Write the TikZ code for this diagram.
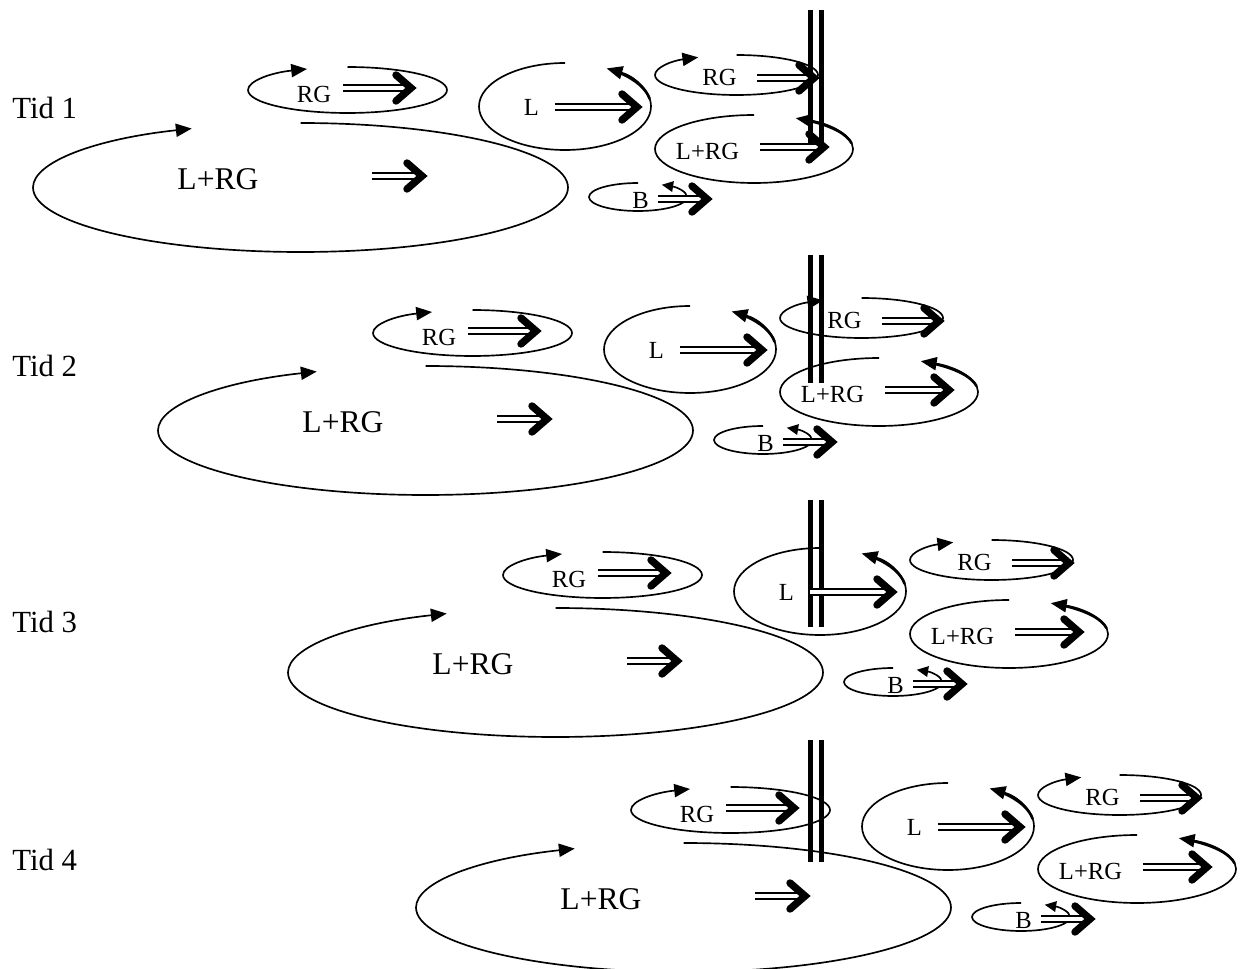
\documentclass[tikz,border=0pt]{standalone}
\usepackage{fontspec}
\setmainfont{Liberation Serif}
\usetikzlibrary{arrows.meta}
\newcommand{\ellarc}[7]{\draw[#1] (#2,-#3) ++(#6:#4 and #5) arc[start angle=#6,end angle=#7,x radius=#4,y radius=#5];}
\newcommand{\dblarrow}[3]{%
  \draw[shaft] (#1,-#3) -- (#2-8,-#3);
  \draw[chev] (#2-21,-#3+13) -- (#2-6,-#3) -- (#2-21,-#3-13);}
\tikzset{
  circarrow/.style={line width=0.95pt, -{Triangle[length=9pt,width=7.5pt]}},
  smallarrow/.style={line width=0.95pt, -{Triangle[length=6.5pt,width=6pt]}},
  thickseg/.style={line width=1.5pt},
  shaft/.style={double, line width=1.25pt, double distance=1.8pt},
  chev/.style={line width=4.2pt, line cap=round, line join=miter},
  barrier/.style={line width=2.8pt},
  lbl/.style={inner sep=0pt, font=\fontsize{14}{14}\selectfont},
  biglbl/.style={inner sep=0pt, font=\fontsize{18}{18}\selectfont},
  tid/.style={inner sep=0pt, anchor=west, font=\fontsize{17.5}{18}\selectfont},
}
\begin{document}
\begin{tikzpicture}[x=0.02cm, y=0.02cm]
\useasboundingbox (0,0) rectangle (1245,-969);
\clip (0,0) rectangle (1245,-969);
\fill[white] (0,0) rectangle (1245,-969);
% time labels
\node[tid] (tid1) at (12,-108) {Tid 1};
\node[tid] (tid2) at (12,-366) {Tid 2};
\node[tid] (tid3) at (12,-622) {Tid 3};
\node[tid] (tid4) at (12,-860) {Tid 4};
% barriers
\foreach \j/\ya/\yb in {1/10/143, 2/255/383, 3/500/627, 4/740/862} {
  \draw[barrier] (810.5,-\ya) -- (810.5,-\yb);
  \draw[barrier] (821.5,-\ya) -- (821.5,-\yb);
}
% rows
\foreach \i/\dx/\dy in {1/0/0, 2/125/243, 3/255/485, 4/383/720} {
\begin{scope}[shift={(\dx,-\dy)}]
  % big L+RG
  \ellarc{circarrow}{300.5}{187.5}{267.5}{64.5}{90}{-246}
  \node[biglbl] (big\i) at (218,-179) {L+RG};
  \dblarrow{372}{428}{176}
  % left RG
  \ellarc{circarrow}{347.5}{90}{99.5}{23}{90}{-246}
  \node[lbl] (rga\i) at (314,-94.5) {RG};
  \dblarrow{343}{417}{88}
  % L
  \ellarc{circarrow}{565}{106.5}{86}{43.5}{90}{421}
  \ellarc{thickseg}{565}{106.5}{86}{43.5}{10}{50}
  \node[lbl] (l\i) at (531.5,-107.5) {L};
  \dblarrow{555}{643}{107}
  % right RG
  \ellarc{circarrow}{736.5}{75}{81.5}{20}{90}{-242}
  \node[lbl] (rgb\i) at (719.5,-77) {RG};
  \dblarrow{757}{820}{78}
  % right L+RG
  \ellarc{circarrow}{754}{149}{99}{34}{90}{425}
  \ellarc{thickseg}{754}{149}{99}{34}{10}{55}
  \node[lbl] (lrg\i) at (707.5,-151) {L+RG};
  \dblarrow{760}{830}{147}
  % B
  \ellarc{smallarrow}{638}{197}{49}{14}{90}{421}
  \node[lbl] (b\i) at (640.5,-200.5) {B};
  \dblarrow{658}{713}{199}
\end{scope}
}
\end{tikzpicture}
\end{document}
